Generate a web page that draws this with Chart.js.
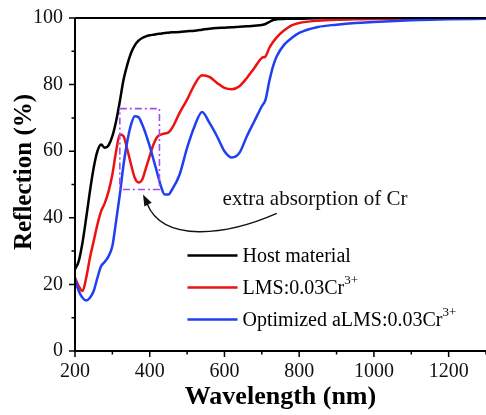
<!DOCTYPE html>
<html>
<head>
<meta charset="utf-8">
<title>Reflection spectra</title>
<script src="https://cdn.jsdelivr.net/npm/chart.js@4.4.1/dist/chart.umd.min.js"></script>
<style>
  html, body { margin: 0; padding: 0; background: #fff; overflow: hidden; }
  #wrap { position: relative; top: -6px; width: 486px; height: 421px; }
</style>
</head>
<body>
<div id="wrap"><canvas id="reflGraph"></canvas></div>
<script>
// wavelength grid (nm) shared by all three spectra
const wavelength = [200, 210, 220, 230, 240, 250, 260, 270, 280, 290, 300, 310, 320, 330, 340, 350, 360, 370, 380, 390,
  400, 410, 420, 430, 440, 450, 460, 480, 500, 520, 540, 560, 580, 600, 620, 640, 660, 680, 700, 710,
  720, 730, 740, 760, 780, 800, 850, 900, 950, 1000, 1100, 1200, 1300];

// reflection (%)
const hostR = [24.5, 27, 32.5, 40, 48, 55, 60, 62, 61, 61.8, 64.5, 69, 75, 81.5, 86, 89.5, 91.8, 93.2, 94, 94.5,
  94.8, 95, 95.2, 95.3, 95.5, 95.6, 95.7, 95.8, 96, 96.2, 96.5, 96.8, 97, 97.1, 97.2, 97.4, 97.5, 97.7, 97.9, 98.2,
  98.8, 99.4, 99.6, 99.7, 99.8, 99.8, 99.9, 99.9, 99.9, 99.9, 99.9, 99.9, 99.9];
const lmsR = [22, 19.5, 18, 22, 28, 33, 38, 42, 44.5, 48, 53, 60, 65, 64.5, 60.5, 56, 52, 50.6, 51.5, 55,
  58.6, 62, 64.3, 65, 65.3, 65.6, 67, 71.5, 75.5, 80, 82.8, 82.3, 80.5, 79, 78.6, 79.5, 82, 85, 88, 88.5,
  91, 92.8, 94.2, 96.3, 97.8, 98.5, 99.2, 99.5, 99.6, 99.7, 99.8, 99.9, 100];
const aLmsR = [21.5, 18, 16, 15.2, 16, 18, 22, 25.5, 26.8, 28.5, 31.5, 39, 47, 56, 63, 68, 70.5, 70.2, 68, 65,
  61.5, 57.5, 53.5, 49.5, 47, 47, 48.5, 53, 61, 67.5, 71.8, 68.5, 64.5, 60, 58.1, 59.5, 64.5, 69, 73.5, 75.5,
  81, 85.5, 88.5, 92, 94, 95.5, 97.3, 98, 98.5, 98.8, 99.3, 99.6, 99.8];

const xTicks = [200, 400, 600, 800, 1000, 1200];
const xMinor = [300, 500, 700, 900, 1100, 1300];
const yTicks = [0, 20, 40, 60, 80, 100];
const yMinor = [10, 30, 50, 70, 90];

// legend entries: [text, superscript, colour]
const legendItems = [
  ['Host material', '', '#000000'],
  ['LMS:0.03Cr', '3+', '#ee1111'],
  ['Optimized aLMS:0.03Cr', '3+', '#1f3ff2']
];

const serif = "'Liberation Serif', 'Times New Roman', serif";

function toPoints(ys) {
  return wavelength.map((x, i) => ({ x: x, y: ys[i] }));
}

// axes frame, ticks, titles, marked region, arrow and legend
const extras = {
  id: 'extras',
  afterDraw(chart) {
    const ctx = chart.ctx;
    const a = chart.chartArea;
    const xs = chart.scales.x, ys = chart.scales.y;
    ctx.save();

    // frame
    ctx.strokeStyle = '#000';
    ctx.lineWidth = 2;
    ctx.beginPath();
    ctx.moveTo(a.left, a.top);
    ctx.lineTo(a.left, a.bottom);
    ctx.lineTo(a.right + 2, a.bottom);
    ctx.moveTo(a.left, a.top);
    ctx.lineTo(a.right + 2, a.top);
    ctx.stroke();

    ctx.lineWidth = 1.5;
    ctx.beginPath();
    yTicks.forEach(v => { const p = ys.getPixelForValue(v); ctx.moveTo(a.left, p); ctx.lineTo(a.left - 6, p); });
    yMinor.forEach(v => { const p = ys.getPixelForValue(v); ctx.moveTo(a.left, p); ctx.lineTo(a.left - 3.5, p); });
    xTicks.forEach(v => { const p = xs.getPixelForValue(v); ctx.moveTo(p, a.bottom); ctx.lineTo(p, a.bottom + 6); });
    xMinor.forEach(v => { const p = xs.getPixelForValue(v); ctx.moveTo(p, a.bottom); ctx.lineTo(p, a.bottom + 3.5); });
    ctx.stroke();

    // axis titles
    ctx.fillStyle = '#000';
    ctx.font = 'bold 26px ' + serif;
    ctx.textAlign = 'center';
    ctx.textBaseline = 'middle';
    ctx.fillText('Wavelength (nm)', (a.left + a.right) / 2, 403);
    ctx.font = 'bold 25px ' + serif;
    ctx.save();
    ctx.translate(25, 178);
    ctx.rotate(-Math.PI / 2);
    ctx.fillText('Reflection (%)', 0, 0);
    ctx.restore();

    // dash-dot box around the 300-430 nm band
    const bx0 = xs.getPixelForValue(320), bx1 = xs.getPixelForValue(426);
    const by0 = ys.getPixelForValue(72.8), by1 = ys.getPixelForValue(48.5);
    ctx.strokeStyle = '#a64bf4';
    ctx.lineWidth = 1.6;
    ctx.setLineDash([7, 3, 2, 3]);
    ctx.strokeRect(bx0, by0, bx1 - bx0, by1 - by0);
    ctx.setLineDash([]);

    // curved arrow pointing at the box
    const tipX = xs.getPixelForValue(382), tipY = ys.getPixelForValue(47);
    const sx = xs.getPixelForValue(740), sy = ys.getPixelForValue(41.3);
    ctx.strokeStyle = '#111';
    ctx.lineWidth = 1.4;
    ctx.beginPath();
    ctx.moveTo(sx, sy);
    ctx.bezierCurveTo(sx - 50, sy + 22, tipX + 20, sy + 30, tipX + 4, tipY + 9);
    ctx.stroke();
    // arrow head
    const ang = Math.atan2(-12, -6);
    ctx.fillStyle = '#111';
    ctx.beginPath();
    ctx.moveTo(tipX, tipY);
    ctx.lineTo(tipX + 12 * Math.cos(ang + Math.PI - 0.35), tipY + 12 * Math.sin(ang + Math.PI - 0.35));
    ctx.lineTo(tipX + 12 * Math.cos(ang + Math.PI + 0.35), tipY + 12 * Math.sin(ang + Math.PI + 0.35));
    ctx.closePath();
    ctx.fill();

    ctx.font = '21px ' + serif;
    ctx.textAlign = 'left';
    ctx.textBaseline = 'alphabetic';
    ctx.fillText('extra absorption of Cr', xs.getPixelForValue(595), ys.getPixelForValue(43.7));

    // legend
    const lx0 = xs.getPixelForValue(501), lx1 = xs.getPixelForValue(635);
    legendItems.forEach((it, i) => {
      const y = ys.getPixelForValue(28.7) + i * 32;
      ctx.strokeStyle = it[2];
      ctx.lineWidth = 2.5;
      ctx.beginPath();
      ctx.moveTo(lx0, y);
      ctx.lineTo(lx1, y);
      ctx.stroke();
      ctx.fillStyle = '#000';
      ctx.font = '20px ' + serif;
      ctx.textBaseline = 'middle';
      ctx.fillText(it[0], lx1 + 5, y + 1);
      if (it[1]) {
        const w = ctx.measureText(it[0]).width;
        ctx.font = '13px ' + serif;
        ctx.fillText(it[1], lx1 + 5 + w, y - 7);
      }
    });

    ctx.restore();
  }
};

document.addEventListener('DOMContentLoaded', function() {
  const canvasElement = document.getElementById('reflGraph');
  const ctx = canvasElement.getContext('2d');

  new Chart(ctx, {
    type: 'line',
    data: {
      datasets: [
        { label: 'Host material', data: toPoints(hostR), borderColor: '#000000', order: 3 },
        { label: 'LMS:0.03Cr3+', data: toPoints(lmsR), borderColor: '#ee1111', order: 2 },
        { label: 'Optimized aLMS:0.03Cr3+', data: toPoints(aLmsR), borderColor: '#1f3ff2', order: 1 }
      ]
    },
    options: {
      responsive: true,
      maintainAspectRatio: false,
      animation: false,
      layout: { padding: { left: 21, top: -2, right: 0, bottom: 22 } },
      elements: {
        point: { radius: 0 },
        line: { borderWidth: 2.5, cubicInterpolationMode: 'monotone', fill: false }
      },
      plugins: {
        legend: { display: false },
        tooltip: { enabled: false }
      },
      scales: {
        x: {
          type: 'linear',
          min: 200,
          max: 1300,
          afterBuildTicks: s => { s.ticks = xTicks.map(v => ({ value: v })); },
          grid: { display: false, drawTicks: false },
          border: { display: false },
          ticks: { font: { family: serif, size: 20 }, color: '#111', padding: 9, maxRotation: 0, callback: v => String(v) }
        },
        y: {
          min: 0,
          max: 100,
          afterBuildTicks: s => { s.ticks = yTicks.map(v => ({ value: v })); },
          grid: { display: false, drawTicks: false },
          border: { display: false },
          ticks: { font: { family: serif, size: 20 }, color: '#111', padding: 12, callback: v => String(v) }
        }
      }
    },
    plugins: [extras]
  });
});
</script>
</body>
</html>
